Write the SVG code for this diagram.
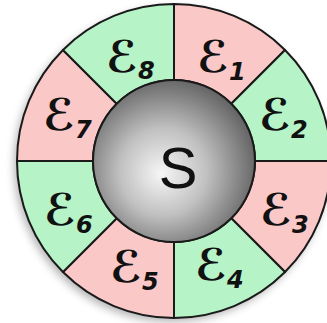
<svg xmlns="http://www.w3.org/2000/svg" width="327" height="323" viewBox="0 0 327 323">
<defs>
<radialGradient id="sph" cx="0.45" cy="0.55" r="0.6" fx="0.42" fy="0.58">
<stop offset="0" stop-color="#f6f6f6"/>
<stop offset="0.45" stop-color="#c0c0c0"/>
<stop offset="1" stop-color="#5a5a5a"/>
</radialGradient>
<filter id="sh" x="-20%" y="-20%" width="140%" height="140%">
<feGaussianBlur stdDeviation="4"/>
</filter>
</defs>
<style>
.seg{stroke:#1a1a1a;stroke-width:2;stroke-linejoin:round}
.pink{fill:#fbc8c8}
.green{fill:#b6f4c8}
.lbl{font-family:"DejaVu Sans",sans-serif;font-size:44px;font-weight:bold;fill:#111;font-style:italic}
.sub{font-size:24px}
</style>
<circle cx="171" cy="165" r="157" fill="#777" opacity="0.55" filter="url(#sh)"/>
<g id="e1"><path class="seg pink" d="M174,4 A157,157 0 0 1 285.02,49.98 L231.28,103.72 A81,81 0 0 0 174,80 Z"/><text class="lbl" x="197" y="72">ℰ<tspan class="sub" dy="8">1</tspan></text></g>
<g id="e2"><path class="seg green" d="M285.02,49.98 A157,157 0 0 1 331,161 L255,161 A81,81 0 0 0 231.28,103.72 Z"/><text class="lbl" x="259" y="130">ℰ<tspan class="sub" dy="8">2</tspan></text></g>
<g id="e3"><path class="seg pink" d="M331,161 A157,157 0 0 1 285.02,272.02 L231.28,218.28 A81,81 0 0 0 255,161 Z"/><text class="lbl" x="260" y="225">ℰ<tspan class="sub" dy="8">3</tspan></text></g>
<g id="e4"><path class="seg green" d="M285.02,272.02 A157,157 0 0 1 174,318 L174,242 A81,81 0 0 0 231.28,218.28 Z"/><text class="lbl" x="195" y="280">ℰ<tspan class="sub" dy="8">4</tspan></text></g>
<g id="e5"><path class="seg pink" d="M174,318 A157,157 0 0 1 62.98,272.02 L116.72,218.28 A81,81 0 0 0 174,242 Z"/><text class="lbl" x="110" y="282">ℰ<tspan class="sub" dy="8">5</tspan></text></g>
<g id="e6"><path class="seg green" d="M62.98,272.02 A157,157 0 0 1 17,161 L93,161 A81,81 0 0 0 116.72,218.28 Z"/><text class="lbl" x="44" y="225">ℰ<tspan class="sub" dy="8">6</tspan></text></g>
<g id="e7"><path class="seg pink" d="M17,161 A157,157 0 0 1 62.98,49.98 L116.72,103.72 A81,81 0 0 0 93,161 Z"/><text class="lbl" x="43" y="130">ℰ<tspan class="sub" dy="8">7</tspan></text></g>
<g id="e8"><path class="seg green" d="M62.98,49.98 A157,157 0 0 1 174,4 L174,80 A81,81 0 0 0 116.72,103.72 Z"/><text class="lbl" x="106" y="72">ℰ<tspan class="sub" dy="7">8</tspan></text></g>
<g id="s"><circle cx="174" cy="161" r="81" fill="url(#sph)" stroke="#1a1a1a" stroke-width="2"/><text x="178" y="188" text-anchor="middle" font-family="Liberation Sans, Arial, sans-serif" font-size="58" fill="#111">S</text></g>
</svg>
